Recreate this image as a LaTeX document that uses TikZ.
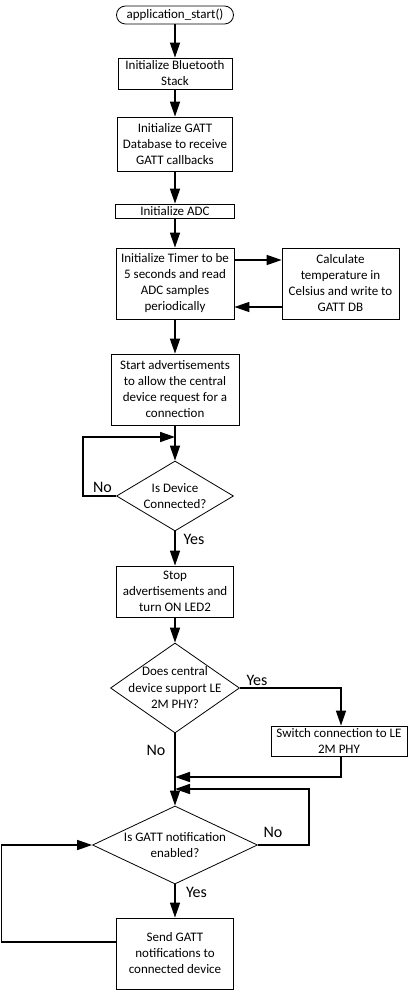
\documentclass[tikz,border=0pt]{standalone}
\usepackage{fontspec}
\setmainfont{Carlito}
\usetikzlibrary{arrows.meta,shapes.geometric,calc}
\begin{document}
\begin{tikzpicture}[x=1pt,y=-1pt,
  box/.style={draw,line width=0.8pt,inner sep=0pt,align=center,font=\fontsize{13}{16}\selectfont},
  dia/.style={draw,diamond,line width=0.8pt,inner sep=0pt},
  dtext/.style={align=center,font=\fontsize{13}{16.5}\selectfont,inner sep=0pt},
  lab/.style={font=\fontsize{16}{18}\selectfont,inner sep=0pt},
  arr/.style={line width=1.6pt,-{Triangle[length=15pt,width=10pt]}},
  ln/.style={line width=1.6pt}]
\useasboundingbox (0,0) rectangle (415,992);

\node[box,rounded corners=9pt,minimum width=117pt,minimum height=18pt] (term) at (175,15) {application\_start()};
\node[box,minimum width=114pt,minimum height=31pt] (b1) at (175,73.5) {Initialize Bluetooth\\Stack};
\node[box,minimum width=115pt,minimum height=54pt] (b2) at (175,144) {Initialize GATT\\Database to receive\\GATT callbacks};
\node[box,minimum width=119pt,minimum height=14pt] (b3) at (175,211) {Initialize ADC};
\node[box,minimum width=118pt,minimum height=71pt] (b4) at (175,283.5) {Initialize Timer to be\\5 seconds and read\\ADC samples\\periodically};
\node[box,minimum width=117pt,minimum height=71pt] (b5) at (340.5,283.5) {Calculate\\temperature in\\Celsius and write to\\GATT DB};
\node[box,minimum width=128pt,minimum height=71pt] (b6) at (175,389.5) {Start advertisements\\to allow the central\\device request for a\\connection};
\node[dia,minimum width=117pt,minimum height=70pt] (d1) at (175,496) {};
\node[dtext] (d1t) at (d1) {Is Device\\Connected?};
\node[box,minimum width=117pt,minimum height=51pt] (b7) at (175,591.5) {Stop\\advertisements and\\turn ON LED2};
\node[dia,minimum width=129pt,minimum height=90pt] (d2) at (175,688) {};
\node[dtext] (d2t) at (d2) {Does central\\device support LE\\2M PHY?};
\node[box,minimum width=136pt,minimum height=30pt] (b8) at (339,741) {Switch connection to LE\\2M PHY};
\node[dia,minimum width=165pt,minimum height=78pt] (d3) at (175,845) {};
\node[dtext] (d3t) at (d3) {Is GATT notification\\enabled?};
\node[box,minimum width=117pt,minimum height=71pt] (b9) at (175,953.5) {Send GATT\\notifications to\\connected device};

\coordinate (m1) at (175,437);
\coordinate (m2) at (175,777);
\coordinate (m3) at (175,789);

\draw[arr] (term.south) -- (b1.north);
\draw[arr] (b1.south) -- (b2.north);
\draw[arr] (b2.south) -- (b3.north);
\draw[arr] (b3.south) -- (b4.north);
\draw[arr] (b4.south) -- (b6.north);
\draw[arr] ([yshift=23.5pt]b4.east) -- ([yshift=23.5pt]b5.west);
\draw[arr] ([yshift=-23.5pt]b5.west) -- ([yshift=-23.5pt]b4.east);
\draw[arr] (b6.south) -- (d1.north);
\draw[arr] (d1.west) -- ++(-33,0) |- (m1);
\draw[arr] (d1.south) -- (b7.north);
\draw[arr] (b7.south) -- (d2.north);
\draw[arr] (d2.east) -| ([xshift=2pt]b8.north);
\draw[arr] (d2.south) -- (d3.north);
\draw[arr] ([xshift=2pt]b8.south) |- (m2);
\draw[arr] (d3.east) -- ++(51,0) |- (m3);
\draw[arr] (d3.south) -- (b9.north);
\draw[arr] ([yshift=11.5pt]b9.west) -- ++(-114.5,0) |- (d3.west);

\node[lab] (l1) at (102.5,487) {No};
\node[lab] (l2) at (194,539) {Yes};
\node[lab] (l3) at (257,680) {Yes};
\node[lab] (l4) at (156,750) {No};
\node[lab] (l5) at (273,832) {No};
\node[lab] (l6) at (196.5,892) {Yes};
\end{tikzpicture}
\end{document}
